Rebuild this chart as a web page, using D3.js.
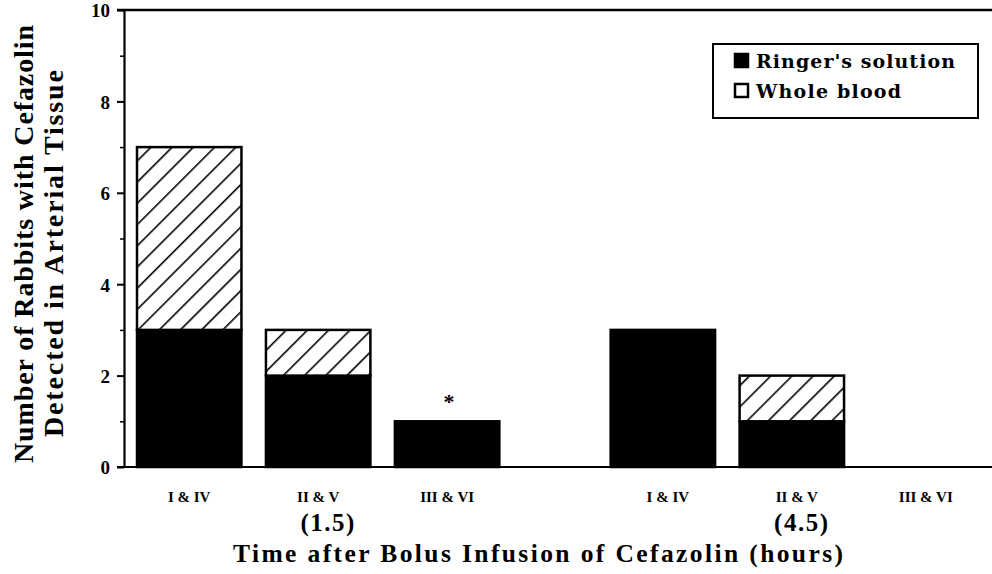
<!DOCTYPE html>
<html>
<head>
<meta charset="utf-8">
<script src="https://cdn.jsdelivr.net/npm/d3@7"></script>
<style>
  html, body { margin: 0; padding: 0; background: #fff; }
  svg { display: block; }
</style>
</head>
<body>
<svg id="chart" width="992" height="574"></svg>
<script>
// ---- data ----
const times = ["1.5", "4.5"];
const groups = ["I & IV", "II & V", "III & VI"];
const ringerValues = [3, 2, 1, 3, 1, 0];   // Ringer's solution (solid)
const bloodValues  = [4, 1, 0, 0, 1, 0];   // Whole blood (hatched)
const yTicks = [0, 2, 4, 6, 8, 10];
const yMinorTicks = [1, 3, 5, 7, 9];
const seriesKeys = ["ringer", "blood"];
const seriesLabels = ["Ringer's solution", "Whole blood"];
const significant = [{time: "1.5", group: "III & VI"}];

const rows = [];
times.forEach((t, ti) => groups.forEach((g, gi) => {
  const i = ti * groups.length + gi;
  rows.push({time: t, group: g, ringer: ringerValues[i], blood: bloodValues[i]});
}));

const svg = d3.select("#chart");
const serif = "'Liberation Serif', 'Times New Roman', serif";

const y = d3.scaleLinear().domain([0, 10]).range([467, 10]);
const x0 = d3.scaleBand().domain(times).range([137, 973]).paddingInner(0.235).paddingOuter(0);
const x1 = d3.scaleBand().domain(groups).range([0, x0.bandwidth()]).paddingInner(0.19).paddingOuter(0);

// hatch pattern
const defs = svg.append("defs");
const pat = defs.append("pattern")
  .attr("id", "hatch").attr("patternUnits", "userSpaceOnUse")
  .attr("width", 15).attr("height", 15)
  .attr("patternTransform", "rotate(45)");
pat.append("rect").attr("width", 15).attr("height", 15).attr("fill", "#fff");
pat.append("line").attr("x1", 0).attr("y1", 0).attr("x2", 0).attr("y2", 15)
  .attr("stroke", "#000").attr("stroke-width", 3.2);

// bars
const stacked = d3.stack().keys(seriesKeys)(rows);
const barG = svg.append("g");
stacked.forEach((layer, li) => {
  barG.selectAll(null).data(layer.filter(d => d[1] - d[0] > 0)).enter().append("rect")
    .attr("x", d => x0(d.data.time) + x1(d.data.group))
    .attr("width", x1.bandwidth())
    .attr("y", d => y(d[1]))
    .attr("height", d => y(d[0]) - y(d[1]))
    .attr("fill", li === 0 ? "#000" : "url(#hatch)")
    .attr("stroke", "#000")
    .attr("stroke-width", 2.5);
});

// significance asterisk
svg.append("g").selectAll("text").data(significant).enter().append("text")
  .attr("x", d => x0(d.time) + x1(d.group) + x1.bandwidth() / 2 + 2)
  .attr("y", d => {
    const r = rows.find(r => r.time === d.time && r.group === d.group);
    return y(r.ringer + r.blood) - 12;
  })
  .attr("text-anchor", "middle")
  .attr("font-family", serif).attr("font-weight", "bold").attr("font-size", 22)
  .text("*");

// y axis
const yAxis = d3.axisLeft(y).tickValues(yTicks).tickSize(7).tickSizeOuter(0).tickPadding(7)
  .tickFormat(d3.format("d"));
const ya = svg.append("g").attr("transform", "translate(124,0)").call(yAxis);
ya.select(".domain").attr("stroke-width", 2.2);
ya.selectAll(".tick line").attr("stroke-width", 2);
ya.selectAll(".tick text")
  .attr("font-family", serif).attr("font-weight", "bold").attr("font-size", 19)
  .attr("fill", "#000").attr("dy", "0.36em");
const yMinor = d3.axisLeft(y).tickValues(yMinorTicks).tickSize(4).tickFormat("");
const ym = svg.append("g").attr("transform", "translate(124,0)").call(yMinor);
ym.select(".domain").remove();
ym.selectAll(".tick line").attr("stroke-width", 1.5);

// top and bottom lines
svg.append("line").attr("x1", 117).attr("x2", 992).attr("y1", y(10)).attr("y2", y(10))
  .attr("stroke", "#000").attr("stroke-width", 2.5);
svg.append("line").attr("x1", 117).attr("x2", 992).attr("y1", y(0)).attr("y2", y(0))
  .attr("stroke", "#000").attr("stroke-width", 2.2);

// x category labels
const xl = svg.append("g");
times.forEach(t => {
  xl.selectAll(null).data(groups).enter().append("text")
    .attr("x", g => x0(t) + x1(g) + x1.bandwidth() / 2 + (t === "4.5" ? 5 : 0))
    .attr("y", 502)
    .attr("text-anchor", "middle")
    .attr("font-family", serif).attr("font-weight", "bold").attr("font-size", 15)
    .text(g => g);
  xl.append("text")
    .attr("x", x0(t) + x0.bandwidth() / 2 + 10)
    .attr("y", 531)
    .attr("text-anchor", "middle")
    .attr("font-family", serif).attr("font-weight", "bold").attr("font-size", 25)
    .attr("letter-spacing", 1.5)
    .text("(" + t + ")");
});

// x title
svg.append("text")
  .attr("x", 233).attr("y", 562)
  .attr("font-family", serif).attr("font-weight", "bold").attr("font-size", 25.5)
  .attr("textLength", 610).attr("lengthAdjust", "spacing")
  .text("Time after Bolus Infusion of Cefazolin (hours)");

// y title (two lines)
svg.append("text")
  .attr("transform", "translate(33,463) rotate(-90)")
  .attr("font-family", serif).attr("font-weight", "bold").attr("font-size", 28)
  .attr("textLength", 438).attr("lengthAdjust", "spacing")
  .text("Number of Rabbits with Cefazolin");
svg.append("text")
  .attr("transform", "translate(63,437) rotate(-90)")
  .attr("font-family", serif).attr("font-weight", "bold").attr("font-size", 28)
  .attr("textLength", 367).attr("lengthAdjust", "spacing")
  .text("Detected in Arterial Tissue");

// legend
const lg = svg.append("g");
lg.append("rect").attr("x", 713).attr("y", 44).attr("width", 265).attr("height", 74)
  .attr("fill", "#fff").attr("stroke", "#000").attr("stroke-width", 2);
seriesKeys.forEach((k, i) => {
  lg.append("rect").attr("x", 735).attr("y", 54 + i * 30).attr("width", 13).attr("height", 13)
    .attr("fill", i === 0 ? "#000" : "#fff").attr("stroke", "#000").attr("stroke-width", 2.5);
  lg.append("text").attr("x", 756).attr("y", 68 + i * 30)
    .attr("font-family", "'DejaVu Serif', serif").attr("font-weight", "bold").attr("font-size", 19)
    .attr("textLength", i === 0 ? 199 : 145).attr("lengthAdjust", "spacing")
    .text(seriesLabels[i]);
});
</script>
</body>
</html>
